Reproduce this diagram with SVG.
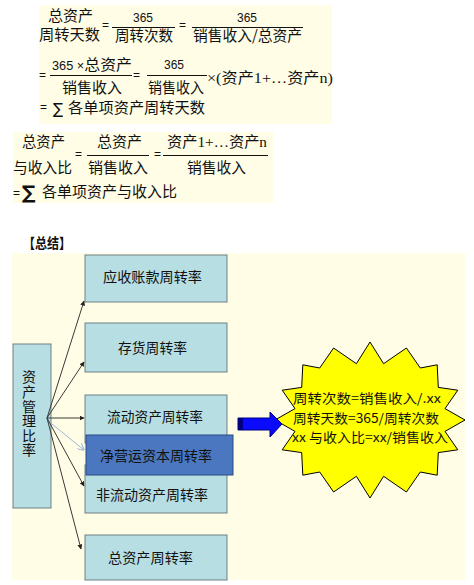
<svg xmlns="http://www.w3.org/2000/svg" width="474" height="585" viewBox="0 0 474 585">
<defs>
<style>
.cj{font-family:"Noto Sans CJK SC","Noto Sans",sans-serif;fill:#111}
.f15{font-size:15px}
.num{font-family:"Liberation Sans",Arial,sans-serif;font-size:12px;fill:#111}
.ser{font-family:"Liberation Serif","Times New Roman",serif}
.bar{stroke:#111;stroke-width:1}
.box{fill:#b7dee3;stroke:#6e8083;stroke-width:1}
.bt{font-family:"Noto Sans CJK SC","Noto Sans",sans-serif;font-size:14px;fill:#111;text-anchor:start}
.con{stroke:#3a3a3a;stroke-width:1;fill:none;marker-end:url(#ah)}
.st{font-family:"Noto Sans CJK SC","Noto Sans",sans-serif;font-size:13px;fill:#111}
</style>
<marker id="ah" viewBox="0 0 10 10" refX="9" refY="5" markerWidth="5" markerHeight="5" orient="auto" markerUnits="userSpaceOnUse">
<path d="M0,0 L10,5 L0,10 z" fill="#222"/>
</marker>
<marker id="ahl" viewBox="0 0 10 10" refX="9" refY="5" markerWidth="7" markerHeight="7" orient="auto" markerUnits="userSpaceOnUse">
<path d="M0,0 L10,5 L0,10" fill="none" stroke="#9ab8d8" stroke-width="1.5"/>
</marker>
</defs>
<rect width="474" height="585" fill="#ffffff"/>

<!-- Formula block 1 -->
<g id="formula1">
<rect x="39" y="5" width="293" height="119" fill="#fffde6"/>
<text class="cj f15" x="48" y="21" textLength="45" lengthAdjust="spacingAndGlyphs">总资产</text>
<text class="cj f15" x="39" y="40" textLength="61" lengthAdjust="spacingAndGlyphs">周转天数</text>
<text class="num" x="102" y="29">=</text>
<text class="num" x="133" y="22">365</text>
<line class="bar" x1="112" y1="27.5" x2="175" y2="27.5"/>
<text class="cj f15" x="115" y="41" textLength="58" lengthAdjust="spacingAndGlyphs">周转次数</text>
<text class="num" x="179" y="29">=</text>
<text class="num" x="247" y="22" text-anchor="middle">365</text>
<line class="bar" x1="192" y1="27.5" x2="303" y2="27.5"/>
<text class="cj f15" x="193" y="41" textLength="109" lengthAdjust="spacingAndGlyphs">销售收入/总资产</text>

<text class="num" x="39" y="79">=</text>
<text class="cj f15" x="52" y="69.5" textLength="80" lengthAdjust="spacingAndGlyphs"><tspan class="num">365 ×</tspan>总资产</text>
<line class="bar" x1="50" y1="75.5" x2="132" y2="75.5"/>
<text class="cj f15" x="62" y="92.5" textLength="60" lengthAdjust="spacingAndGlyphs">销售收入</text>
<text class="num" x="133" y="79">=</text>
<text class="num" x="174" y="68.5" text-anchor="middle">365</text>
<line class="bar" x1="147" y1="75.5" x2="207" y2="75.5"/>
<text class="cj f15" x="148" y="92.5" textLength="56" lengthAdjust="spacingAndGlyphs">销售收入</text>
<text class="cj f15" x="207" y="82.5" textLength="126" lengthAdjust="spacingAndGlyphs"><tspan class="ser">×(</tspan>资产<tspan class="ser">1+…</tspan>资产<tspan class="ser">n)</tspan></text>

<text class="num" x="40" y="111">=</text>
<text x="53" y="114" style="font-family:'DejaVu Sans',sans-serif;font-size:15px;fill:#111">∑</text>
<text class="cj f15" x="68" y="112.5" textLength="137" lengthAdjust="spacingAndGlyphs">各单项资产周转天数</text>
</g>

<!-- Formula block 2 -->
<g id="formula2">
<rect x="13" y="132" width="260" height="71" fill="#fffde6"/>
<text class="cj f15" x="22" y="147" textLength="43" lengthAdjust="spacingAndGlyphs">总资产</text>
<text class="cj f15" x="13" y="173" textLength="59" lengthAdjust="spacingAndGlyphs">与收入比</text>
<text class="num" x="75" y="157.5">=</text>
<text class="cj f15" x="97" y="147" textLength="45" lengthAdjust="spacingAndGlyphs">总资产</text>
<line class="bar" x1="87" y1="155.5" x2="149" y2="155.5"/>
<text class="cj f15" x="88" y="173" textLength="60" lengthAdjust="spacingAndGlyphs">销售收入</text>
<text class="num" x="154" y="157.5">=</text>
<text class="cj f15" x="167" y="147" textLength="100" lengthAdjust="spacingAndGlyphs">资产<tspan class="ser">1+…</tspan>资产<tspan class="ser">n</tspan></text>
<line class="bar" x1="163" y1="155.5" x2="268" y2="155.5"/>
<text class="cj f15" x="187" y="173" textLength="59" lengthAdjust="spacingAndGlyphs">销售收入</text>
<text class="num" x="13" y="197">=</text>
<text x="22" y="199" style="font-family:'DejaVu Sans',sans-serif;font-size:19px;font-weight:bold;fill:#111">∑</text>
<text class="cj f15" x="42" y="197" textLength="135" lengthAdjust="spacingAndGlyphs">各单项资产与收入比</text>
</g>

<text id="title" x="23" y="247.5" textLength="48" lengthAdjust="spacingAndGlyphs" style="font-family:'Noto Sans CJK SC',sans-serif;font-size:14px;font-weight:bold;fill:#111">【总结】</text>

<!-- Summary background -->
<rect x="12" y="253" width="453" height="327" fill="#fffde6"/>

<g id="n-root">
<rect class="box" x="13" y="344" width="38" height="164"/>
<text class="bt" x="29" y="370" writing-mode="vertical-rl" letter-spacing="0.6">资产管理比率</text>
</g>

<g id="n-ar">
<rect class="box" x="85" y="255" width="142" height="47"/>
<text class="bt" x="103" y="282" textLength="99" lengthAdjust="spacingAndGlyphs">应收账款周转率</text>
</g>
<g id="n-inv">
<rect class="box" x="85" y="323" width="142" height="49"/>
<text class="bt" x="118" y="353" textLength="69" lengthAdjust="spacingAndGlyphs">存货周转率</text>
</g>
<g id="n-ca">
<rect class="box" x="85" y="395" width="142" height="48"/>
<text class="bt" x="107" y="422" textLength="96" lengthAdjust="spacingAndGlyphs">流动资产周转率</text>
</g>
<g id="n-nca">
<rect class="box" x="85" y="465" width="142" height="48"/>
<text class="bt" x="96" y="500" textLength="112" lengthAdjust="spacingAndGlyphs">非流动资产周转率</text>
</g>
<g id="n-wc">
<rect x="86" y="435" width="147" height="40" fill="#4a77bf" stroke="#2b4b82" stroke-width="1"/>
<text class="bt" x="100" y="461" textLength="112" lengthAdjust="spacingAndGlyphs">净营运资本周转率</text>
</g>
<g id="n-ta">
<rect class="box" x="85" y="535" width="142" height="45"/>
<text class="bt" x="108" y="563" textLength="85" lengthAdjust="spacingAndGlyphs">总资产周转率</text>
</g>

<g id="connectors">
<line class="con" x1="47" y1="418" x2="84" y2="301"/>
<line class="con" x1="47" y1="418" x2="84" y2="362"/>
<line class="con" x1="47" y1="418" x2="84" y2="418"/>
<line x1="47" y1="420" x2="84" y2="450" stroke="#9ab8d8" stroke-width="1" marker-end="url(#ahl)"/>
<line class="con" x1="47" y1="418" x2="84" y2="486"/>
<line class="con" x1="47" y1="418" x2="81" y2="549"/>
</g>

<g id="n-star">
<polygon fill="#ffff00" stroke="#000" stroke-width="1" points="370.0,342.0 383.6,363.7 406.4,348.0 420.3,368.0 437.2,364.8 438.3,387.4 457.8,390.2 445.0,408.6 465.0,420.0 445.0,431.4 457.8,449.8 438.3,452.6 437.2,475.2 420.3,472.0 406.4,492.0 383.6,476.3 370.0,498.0 356.4,476.3 333.6,492.0 319.7,472.0 302.8,475.2 301.7,452.6 282.2,449.8 295.0,431.4 275.0,420.0 295.0,408.6 282.2,390.2 301.7,387.4 302.8,364.8 319.7,368.0 333.6,348.0 356.4,363.7"/>
<text class="st" x="293" y="402.6" textLength="148" lengthAdjust="spacingAndGlyphs">周转次数=销售收入/.xx</text>
<text class="st" x="293" y="423" textLength="146" lengthAdjust="spacingAndGlyphs">周转天数=365/周转次数</text>
<text class="st" x="292" y="441.5" textLength="156" lengthAdjust="spacingAndGlyphs">xx 与收入比=xx/销售收入</text>
</g>

<g id="blue-arrow">
<polygon points="238,418 270,418 270,412 282,424 270,437 270,430 238,430" fill="#0a0aff" stroke="#000080" stroke-width="1"/>
<rect x="238" y="418" width="5" height="12" fill="#000080"/>
</g>
</svg>
